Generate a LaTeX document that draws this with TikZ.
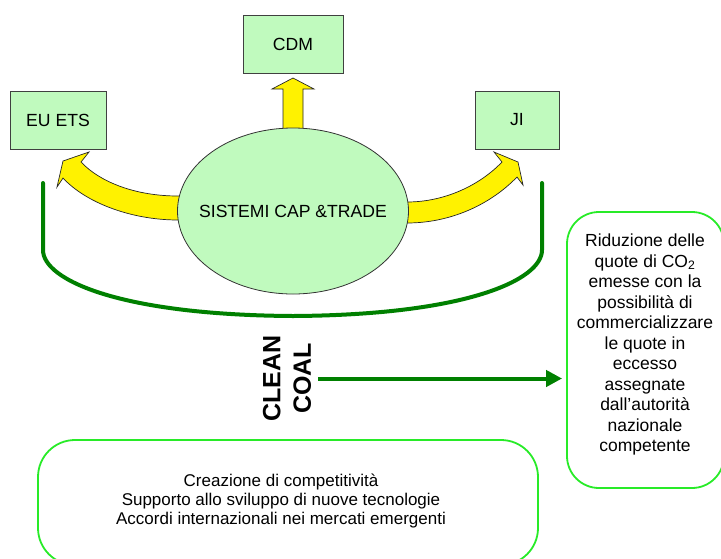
\documentclass[tikz,border=0pt]{standalone}
\usepackage{fontspec}
\setmainfont{Liberation Sans}
\usepackage{xcolor}
\usetikzlibrary{positioning}
\usetikzlibrary{backgrounds}
\usetikzlibrary{shapes.geometric}
\usetikzlibrary{arrows.meta}
\definecolor{boxgreen}{RGB}{192,250,190}
\definecolor{darkgreen}{RGB}{0,128,0}
\definecolor{limegreen}{RGB}{40,235,40}
\tikzstyle{greenbox}=[rectangle,draw=black!75,line width=0.8pt,fill=boxgreen,font=\fontsize{17.6}{21}\selectfont]
\tikzstyle{capsys}=[ellipse,draw=black!80,line width=0.8pt,fill=boxgreen,inner sep=0pt]
\tikzstyle{bigarrow}=[fill=yellow,draw=black!85,line width=0.7pt,line join=miter]
\tikzstyle{roundbox}=[rectangle,draw=limegreen,line width=1.8pt]
\tikzstyle{bodytext}=[align=center,font=\fontsize{17.5}{20.5}\selectfont]
\tikzstyle{bracket}=[draw=darkgreen,line width=4pt,line cap=round]
\tikzstyle{coalarrow}=[draw=darkgreen,line width=4pt,-{Triangle[length=16pt,width=16pt]}]

\begin{document}
\begin{tikzpicture}[x=1pt,y=-1pt]
    \useasboundingbox (0,0) rectangle (721,558);
    \clip (0,0) rectangle (721,558);

\node (sys) [capsys,minimum width=231pt,minimum height=166pt] at (293,211) {};
\node (systext) [font=\fontsize{17.6}{21}\selectfont] at (sys.center) {SISTEMI CAP \&TRADE};
\node (cdm) [greenbox,above=54pt of sys,minimum width=100pt,minimum height=58pt] {CDM};
\node (euets) [greenbox,minimum width=96pt,minimum height=58pt] at (58,120) {EU ETS};
\node (ji) [greenbox,minimum width=84pt,minimum height=58pt] at (517,120) {JI};

\begin{scope}[on background layer]
    % yellow arrows out of the ellipse
    \filldraw[bigarrow] (283,135) -- (283,89) -- (272,89) -- (293,78) -- (314,89) -- (303,89) -- (303,135) -- cycle;
    \filldraw[bigarrow] (192,220) -- (178,220) .. controls (130,220) and (85,202) .. (63,178)
        -- (57,187) -- (63,161) -- (89,152) -- (81,162)
        .. controls (100,182) and (135,196) .. (178,196) -- (192,196) -- cycle;
    \filldraw[bigarrow] (395,202) -- (407,202) .. controls (445,202) and (480,185) .. (502,162)
        -- (494,152) -- (518,162) -- (523,185) -- (517,177)
        .. controls (490,205) and (450,223) .. (407,223) -- (395,223) -- cycle;
\end{scope}

\draw[bracket] (43,183) -- (43,250) .. controls (43,280) and (120,315) .. (293,316)
    .. controls (466,315) and (542,280) .. (542,250) -- (542,183);

\node (coal) [rotate=90,align=center,inner sep=2pt,font=\fontsize{25}{30.5}\selectfont\bfseries] at (287,378.5) {CLEAN\\COAL};

\node (riduzbox) [roundbox,rounded corners=32pt,minimum width=157pt,minimum height=276pt] at (645.5,350) {};
\node (riduz) [bodytext] at (645,344.5) {Riduzione delle\\quote di CO\textsubscript{2}\\emesse con la\\possibilità di\\commercializzare\\le quote in\\eccesso\\assegnate\\dall’autorità\\nazionale\\competente};

\draw[coalarrow] ([xshift=5pt]coal.south) -- ([xshift=-4pt]coal.south -| riduzbox.west);

\node (compbox) [roundbox,rounded corners=37pt,minimum width=500pt,minimum height=125pt] at (288,502.5) {};
\node (comp) [bodytext,font=\fontsize{17}{19.3}\selectfont] at (281,501) {Creazione di competitività\\Supporto allo sviluppo di nuove tecnologie\\Accordi internazionali nei mercati emergenti};
\end{tikzpicture}
\end{document}
